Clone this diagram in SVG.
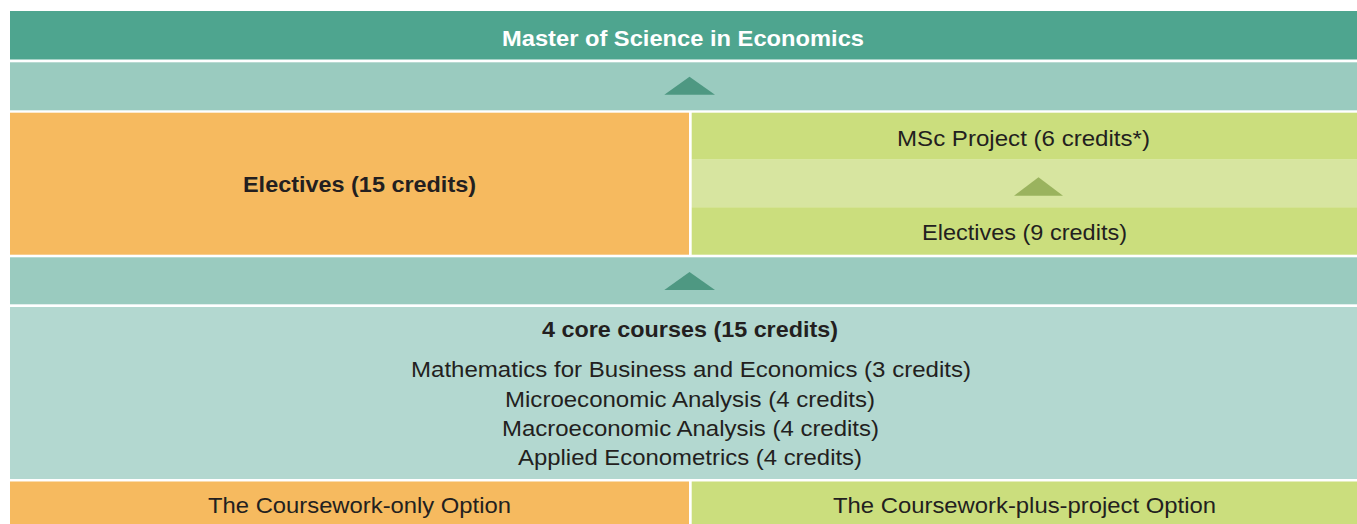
<svg xmlns="http://www.w3.org/2000/svg" width="1357" height="524" viewBox="0 0 1357 524">
<style>
.t{font-family:"Liberation Sans",Arial,sans-serif;font-size:21.5px;fill:#231f20;text-anchor:middle}
.b{font-weight:bold}
.w{fill:#ffffff}
.band{fill:#9acbbf}
.orange{fill:#f6ba5f}
.green{fill:#cbde7d}
.lgreen{fill:#d7e5a0}
.core{fill:#b3d8d0}
.ah{fill:#4e9882}
.ag{fill:#9ab35e}
</style>
<rect x="0" y="0" width="1357" height="524" fill="#ffffff"/>
<g id="header">
<rect x="10" y="11" width="1347" height="48.5" fill="#4ea58f"/>
<text class="t b w" x="683" y="46" font-size="22" textLength="362" lengthAdjust="spacingAndGlyphs">Master of Science in Economics</text>
</g>
<rect class="band" x="10" y="62.3" width="1347" height="48"/>
<g id="electives15">
<rect class="orange" x="10" y="112.7" width="679" height="142"/>
<text class="t b" x="359.5" y="192" font-size="22" textLength="233" lengthAdjust="spacingAndGlyphs">Electives (15 credits)</text>
</g>
<g id="project">
<rect class="green" x="691.7" y="112.7" width="665.3" height="47"/>
<text class="t" x="1023.5" y="145.5" textLength="253" lengthAdjust="spacingAndGlyphs">MSc Project (6 credits*)</text>
</g>
<rect class="lgreen" x="691.7" y="159.7" width="665.3" height="47.5"/>
<g id="electives9">
<rect class="green" x="691.7" y="207.2" width="665.3" height="47.5"/>
<text class="t" x="1024.5" y="240" textLength="205" lengthAdjust="spacingAndGlyphs">Electives (9 credits)</text>
</g>
<rect class="band" x="10" y="257.3" width="1347" height="47"/>
<g id="core">
<rect class="core" x="10" y="307" width="1347" height="172"/>
<text class="t b" x="690" y="337" textLength="296" lengthAdjust="spacingAndGlyphs">4 core courses (15 credits)</text>
<text class="t" x="691" y="377" textLength="560" lengthAdjust="spacingAndGlyphs">Mathematics for Business and Economics (3 credits)</text>
<text class="t" x="690" y="406.5" textLength="370" lengthAdjust="spacingAndGlyphs">Microeconomic Analysis (4 credits)</text>
<text class="t" x="690.5" y="436" textLength="377" lengthAdjust="spacingAndGlyphs">Macroeconomic Analysis (4 credits)</text>
<text class="t" x="690" y="465" textLength="344" lengthAdjust="spacingAndGlyphs">Applied Econometrics (4 credits)</text>
</g>
<g id="option1">
<rect class="orange" x="10" y="481.5" width="679" height="42.5"/>
<text class="t" x="359.5" y="513" textLength="303" lengthAdjust="spacingAndGlyphs">The Coursework-only Option</text>
</g>
<g id="option2">
<rect class="green" x="691.7" y="481.5" width="665.3" height="42.5"/>
<text class="t" x="1024.5" y="513" textLength="383" lengthAdjust="spacingAndGlyphs">The Coursework-plus-project Option</text>
</g>
<g id="connectors">
<polygon class="ah" points="664.3,94.7 689.5,76.7 715,94.7"/>
<polygon class="ag" points="1014,195.7 1038.5,177.3 1063,195.7"/>
<polygon class="ah" points="664.3,290 689.5,272 715,290"/>
</g>
</svg>
